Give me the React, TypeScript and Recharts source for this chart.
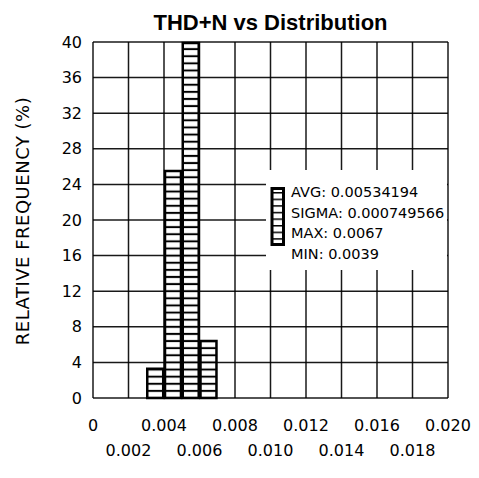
import { ComposedChart, Bar, XAxis, YAxis, CartesianGrid } from 'recharts';

const xTicks = [0, 0.002, 0.004, 0.006, 0.008, 0.01, 0.012, 0.014, 0.016, 0.018, 0.02];
const yTicks = [0, 4, 8, 12, 16, 20, 24, 28, 32, 36, 40];
const binCenters = [0.0035, 0.0045, 0.0055, 0.0065];
const frequencies = [3.3, 25.5, 39.9, 6.4];
const statLines = ['AVG: 0.00534194', 'SIGMA: 0.000749566', 'MAX: 0.0067', 'MIN: 0.0039'];

const data = binCenters.map((x, i) => ({ x, freq: frequencies[i] }));

const tickFont = '"DejaVu Sans", sans-serif';

function XTick(props: any) {
  const { x, y, payload } = props;
  const idx = xTicks.findIndex((t) => Math.abs(t - payload.value) < 1e-9);
  const label = payload.value === 0 ? '0' : payload.value.toFixed(3);
  return (
    <text x={x} y={y + (idx % 2 === 0 ? 31 : 56)} textAnchor="middle" fontSize={16} fontFamily={tickFont} fill="#000">
      {label}
    </text>
  );
}

// stats box drawn over the plot, like the original instrument printout
function StatsBox() {
  return (
    <g transform="translate(266,170)">
      <defs>
        <pattern id="legendHatch" patternUnits="userSpaceOnUse" width={8} height={6.6} y={187}>
          <rect width={8} height={6.6} fill="#fff" />
          <line x1={0} x2={8} y1={0} y2={0} stroke="#000" strokeWidth={3} />
        </pattern>
      </defs>
      <rect x={0} y={0} width={181} height={100} fill="#fff" />
      <rect x={6} y={18.5} width={11.5} height={56} fill="url(#legendHatch)" stroke="#000" strokeWidth={3} />
      {statLines.map((s, i) => (
        <text key={s} x={25} y={27 + i * 20.5} fontSize={14.5} fontFamily={tickFont} fill="#000">
          {s}
        </text>
      ))}
    </g>
  );
}

export default function App() {
  return (
    <div style={{ position: 'relative', width: 479, height: 478, margin: -8, background: '#fff' }}>
      <svg width={0} height={0} style={{ position: 'absolute' }}>
        <defs>
          <pattern id="barHatch" patternUnits="userSpaceOnUse" width={10} height={7.12} y={398}>
            <rect width={10} height={7.12} fill="#fff" />
            <line x1={0} x2={10} y1={0} y2={0} stroke="#000" strokeWidth={2} />
            <line x1={0} x2={10} y1={7.12} y2={7.12} stroke="#000" strokeWidth={2} />
          </pattern>
        </defs>
      </svg>
      <ComposedChart width={479} height={478} data={data} margin={{ top: 42, right: 31, bottom: 0, left: 0 }}>
        <CartesianGrid stroke="#000" strokeWidth={1.5} strokeOpacity={0.9} />
        <XAxis
          type="number"
          dataKey="x"
          domain={[0, 0.02]}
          ticks={xTicks}
          tick={<XTick />}
          tickLine={false}
          axisLine={false}
          tickSize={0}
          height={80}
          interval={0}
        />
        <YAxis
          type="number"
          domain={[0, 40]}
          ticks={yTicks}
          width={93}
          tickLine={false}
          axisLine={false}
          tickSize={0}
          tickMargin={11}
          interval={0}
          tick={{ fontSize: 16, fontFamily: tickFont, fill: '#000' }}
        />
        <Bar
          dataKey="freq"
          barSize={17.75}
          fill="url(#barHatch)"
          stroke="#000"
          strokeWidth={2.5}
          isAnimationActive={false}
        />
      </ComposedChart>
      <svg width={479} height={478} style={{ position: 'absolute', left: 0, top: 0, pointerEvents: 'none' }}>
        <StatsBox />
        <text x={270.5} y={30} textAnchor="middle" fontSize={22} fontWeight="bold" fontFamily='"Liberation Sans", Arial, sans-serif' fill="#000">
          THD+N vs Distribution
        </text>
        <text transform="translate(28.5,221) rotate(-90)" textAnchor="middle" fontSize={18} fontFamily={tickFont} letterSpacing={0.5} fill="#000">
          RELATIVE FREQUENCY (%)
        </text>
      </svg>
    </div>
  );
}
